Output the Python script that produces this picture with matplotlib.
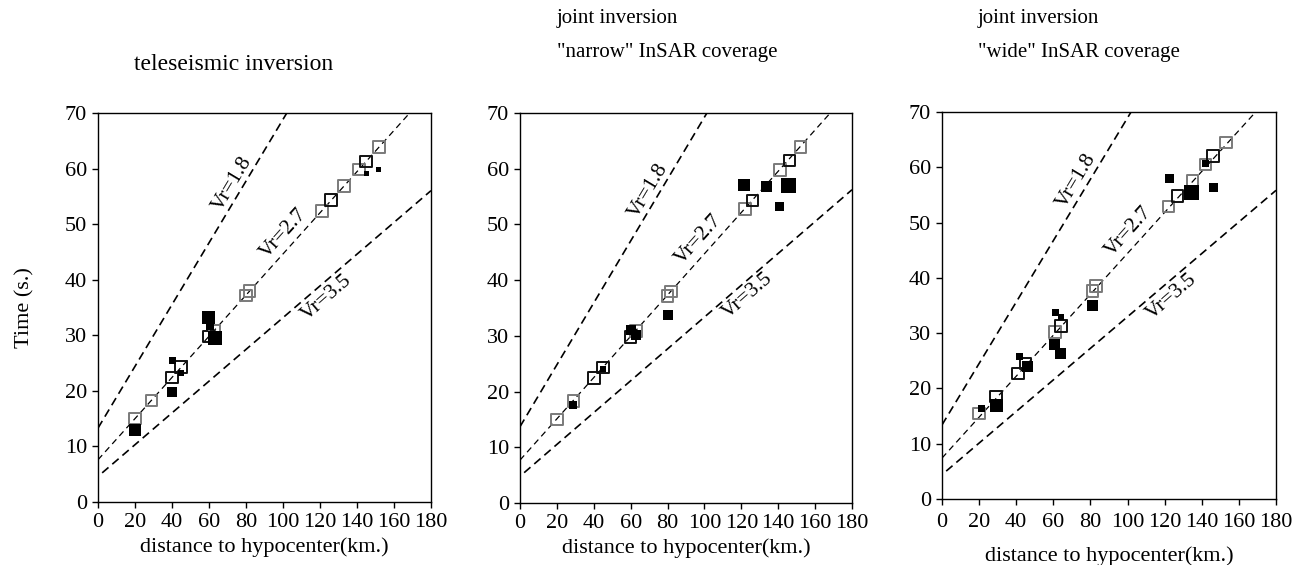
import matplotlib
matplotlib.use("Agg")
import matplotlib.pyplot as plt
import numpy as np

plt.rcParams['font.family'] = ['Liberation Serif', 'DejaVu Serif']

# ---------------- data ----------------
panel_titles = [
    ["teleseismic inversion"],
    ["joint inversion", "\"narrow\" InSAR coverage"],
    ["joint inversion", "\"wide\" InSAR coverage"],
]
x_ticks = [0, 20, 40, 60, 80, 100, 120, 140, 160, 180]
y_ticks = [0, 10, 20, 30, 40, 50, 60, 70]

vr_values = [1.8, 2.7, 3.5]
vr_labels = ["Vr=1.8", "Vr=2.7", "Vr=3.5"]
# intercepts (s) of the rupture-velocity lines in each panel
vr_intercepts = [
    [13.3, 7.6, 4.6],
    [13.7, 7.7, 4.8],
    [13.4, 7.4, 4.4],
]

# open squares (reference, on Vr=2.7 line)
tele_open_d = [20, 29, 40, 45, 60, 63, 80, 82, 121, 126, 133, 141, 145, 152]
tele_open_t = [15.0, 18.3, 22.4, 24.3, 29.8, 30.9, 37.2, 38.0, 52.4, 54.3, 56.9, 59.8, 61.3, 63.9]
narrow_open_d = [20, 29, 40, 45, 60, 63, 80, 82, 122, 126, 141, 146, 152]
narrow_open_t = [15.0, 18.3, 22.4, 24.3, 29.8, 30.9, 37.2, 38.0, 52.8, 54.3, 59.8, 61.5, 63.9]
wide_open_d = [20, 29, 41, 45, 61, 64, 81, 83, 122, 127, 135, 142, 146, 153]
wide_open_t = [15.5, 18.5, 22.7, 24.5, 30.2, 31.3, 37.6, 38.5, 52.9, 54.8, 57.6, 60.5, 62.0, 64.5]

# filled squares (inverted rupture times) and their sizes (px)
tele_fill_d = [20, 40, 40.3, 45, 59.8, 60.5, 63.5, 145.2, 151.7]
tele_fill_t = [12.9, 19.8, 25.5, 23.2, 33.2, 31.6, 29.5, 59.2, 59.8]
tele_fill_size = [12, 10, 7, 6, 13, 8, 14, 5, 5]
narrow_fill_d = [28.8, 45, 60.4, 63, 80.2, 121.6, 133.9, 145.4, 140.9]
narrow_fill_t = [17.6, 24.0, 31.1, 30.2, 33.7, 57.1, 56.8, 56.9, 53.2]
narrow_fill_size = [8, 6, 10, 10, 10, 12, 11, 15, 9]
wide_fill_d = [21.4, 29.5, 41.5, 46.2, 61.2, 64.1, 60.5, 64.1, 81, 122.5, 134.5, 146.2, 142.2]
wide_fill_t = [16.4, 16.9, 25.8, 23.9, 33.7, 33.0, 27.9, 26.4, 35.0, 57.9, 55.4, 56.4, 60.7]
wide_fill_size = [7, 13, 7, 11, 7, 6, 11, 11, 11, 9, 15, 9, 7]

# ---------------- styles ----------------
G, K = '#7a7a7a', '#111111'
tele_open_edge = [G, G, K, K, K, G, G, G, G, K, G, G, K, G]
narrow_open_edge = [G, G, K, K, K, G, G, G, G, K, G, K, G]
wide_open_edge = [G, K, K, K, G, K, G, G, G, K, G, G, K, G]

panels = [
    (tele_open_d, tele_open_t, tele_open_edge, tele_fill_d, tele_fill_t, tele_fill_size),
    (narrow_open_d, narrow_open_t, narrow_open_edge, narrow_fill_d, narrow_fill_t, narrow_fill_size),
    (wide_open_d, wide_open_t, wide_open_edge, wide_fill_d, wide_fill_t, wide_fill_size),
]

# label placement (d, t, rotation) per panel for the Vr labels
vr_label_pos = [
    [(72.5, 57.2, 59), (100.5, 48.3, 48), (123.5, 36.8, 41)],
    [(69.4, 56.1, 59), (96.8, 47.2, 48), (123.4, 37.2, 41)],
    [(72.6, 57.6, 59), (100.4, 48.4, 48), (123.8, 36.6, 41)],
]

W, H = 1305, 565
fig = plt.figure(figsize=(W / 100, H / 100), dpi=100)

axes_px = [(98, 431, 113, 502), (520, 852, 113, 503), (942, 1276, 112, 499)]
label_pads = [(3.5, 4), (3.5, 4), (5.5, 10)]

for i, (box, data) in enumerate(zip(axes_px, panels)):
    l, r, t, b = box
    ax = fig.add_axes([l / W, 1 - b / H, (r - l) / W, (b - t) / H])
    od, ot, oe, fd, ft, fs = data
    ax.set_xlim(0, 180)
    ax.set_ylim(0, 70)

    dd = np.linspace(0, 180, 400)
    for j, (vr, c0) in enumerate(zip(vr_values, vr_intercepts[i])):
        if j == 1:
            ax.plot(dd, c0 + dd / vr, color='black', lw=0.9, dashes=(5, 3.5), zorder=1)
        else:
            start = 0 if j == 0 else 2
            d2 = dd[dd >= start]
            ax.plot(d2, c0 + d2 / vr, color='black', lw=1.2, dashes=(5, 3), zorder=1)
        x, y, rot = vr_label_pos[i][j]
        ax.text(x, y, vr_labels[j], rotation=rot, rotation_mode='anchor',
                ha='center', va='center', fontsize=15.5)

    ax.scatter(od, ot, s=8.3 ** 2, marker='s', facecolors='none',
               edgecolors=oe, linewidths=1.4, zorder=3)
    ax.scatter(fd, ft, s=(np.array(fs) * 0.72) ** 2, marker='s',
               color='black', linewidths=0, zorder=4)

    ax.set_xticks(x_ticks)
    ax.set_yticks(y_ticks)
    ax.tick_params(direction='out', length=4.5, width=1, labelsize=16)
    ax.tick_params(axis='x', pad=label_pads[i][0])
    for s in ax.spines.values():
        s.set_linewidth(1.0)
    ax.set_xlabel("distance to hypocenter(km.)", fontsize=16, labelpad=label_pads[i][1])
    if i == 0:
        ax.set_ylabel("Time (s.)", fontsize=16, labelpad=22)

# titles
fig.text(233.7 / W, 1 - 65 / H, panel_titles[0][0], ha='center', va='center', fontsize=17)
fig.text(557 / W, 1 - 18 / H, panel_titles[1][0], ha='left', va='center', fontsize=15)
fig.text(557 / W, 1 - 52 / H, panel_titles[1][1], ha='left', va='center', fontsize=15)
fig.text(978 / W, 1 - 18 / H, panel_titles[2][0], ha='left', va='center', fontsize=15)
fig.text(978 / W, 1 - 52 / H, panel_titles[2][1], ha='left', va='center', fontsize=15)

fig.savefig("out.png", dpi=100)
